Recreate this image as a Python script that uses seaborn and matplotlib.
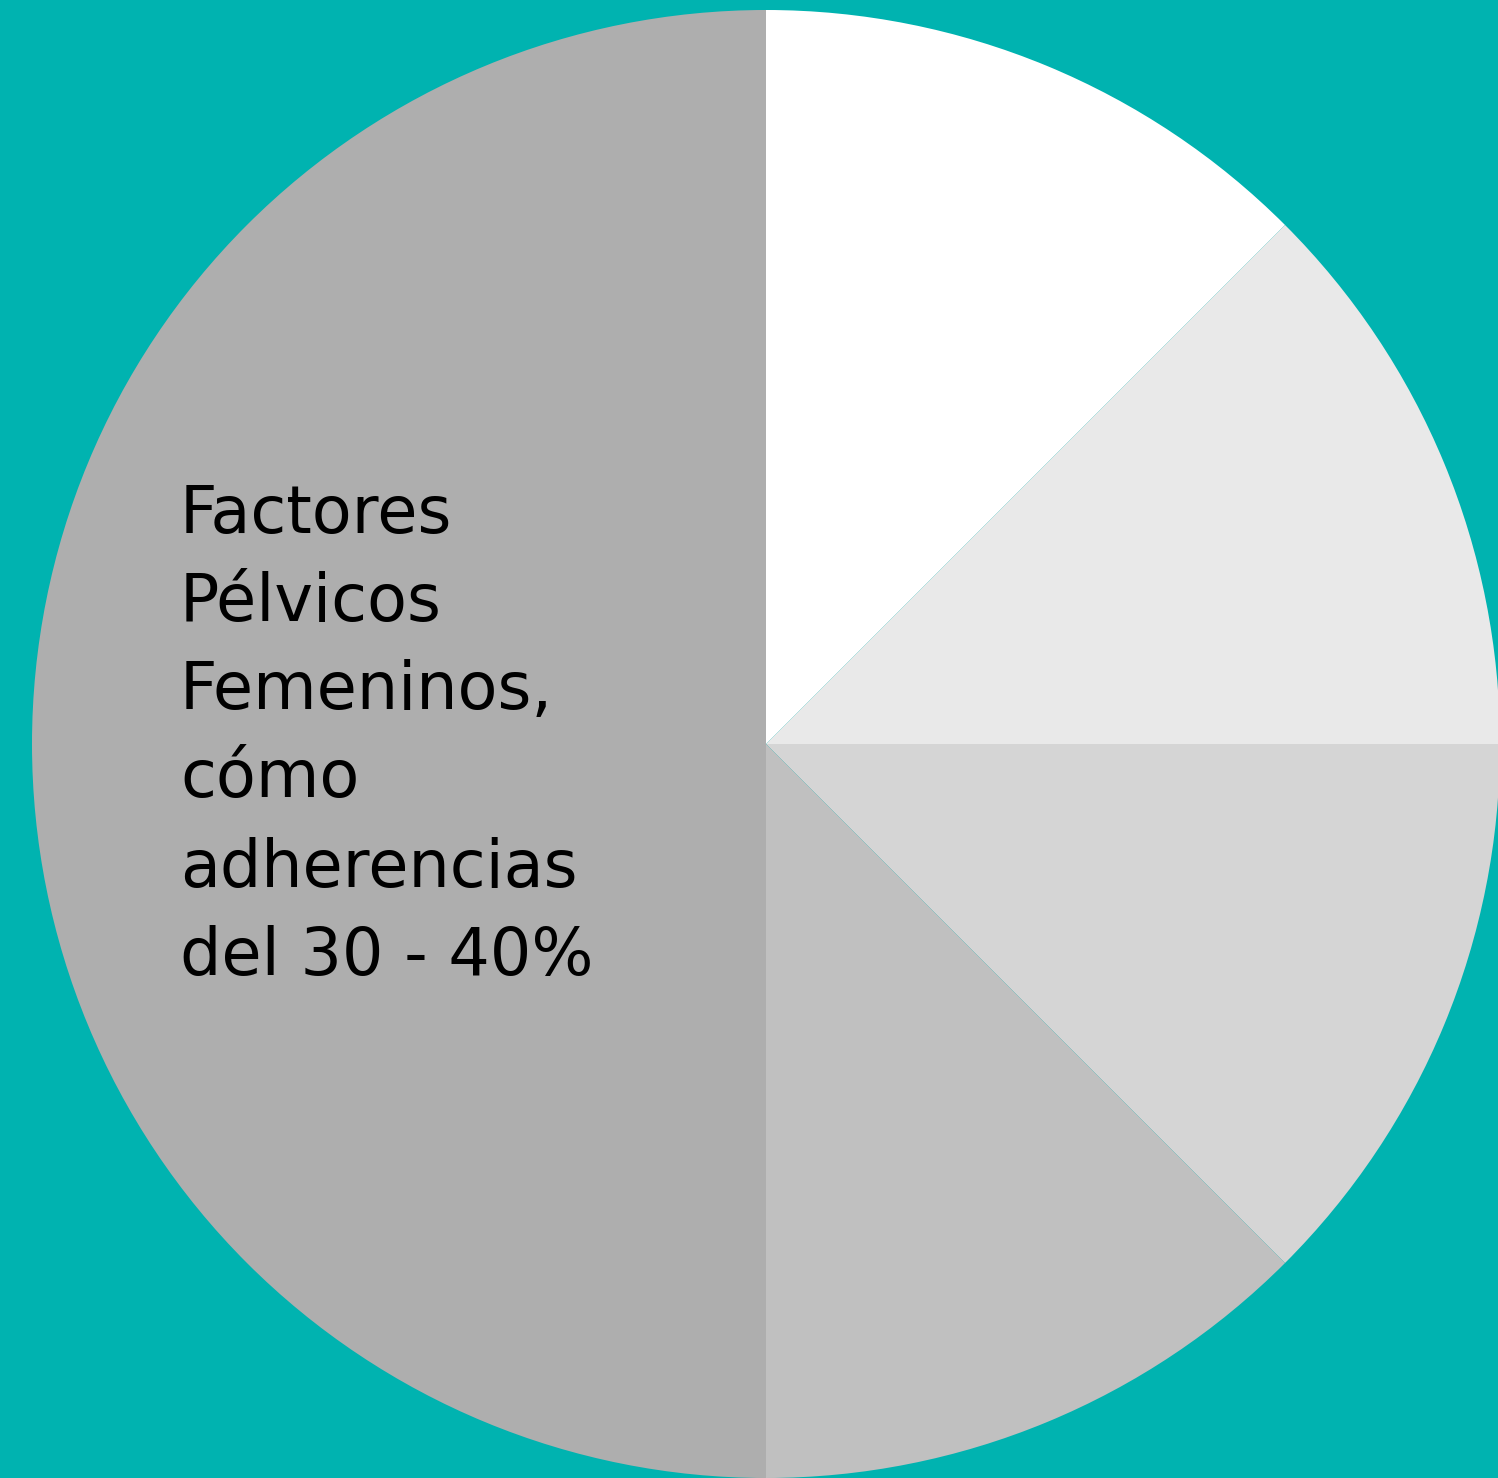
import matplotlib
matplotlib.use("Agg")
import matplotlib.pyplot as plt
import seaborn as sns

sns.set_style("white")
plt.rcParams['font.family'] = ['DejaVu Sans']

categories = ["A", "B", "C", "D", "Factores Pélvicos Femeninos"]
values = [12.5, 12.5, 12.5, 12.5, 50]
colors = ["#FFFFFF", "#E9E9E9", "#D5D5D5", "#C0C0C0", "#AEAEAE"]
label_lines = ["Factores", "Pélvicos", "Femeninos,", "cómo", "adherencias", "del 30 - 40%"]

W, H = 1498, 1478
fig = plt.figure(figsize=(W / 100, H / 100), dpi=100)
fig.patch.set_facecolor("#00B3B0")
ax = fig.add_axes([0, 0, 1, 1])
ax.set_facecolor("#00B3B0")

ax.pie(values, colors=colors, startangle=90, counterclock=False,
       center=(766, H - 744), radius=734, frame=True,
       wedgeprops=dict(linewidth=0, antialiased=True))
ax.set_xlim(0, W)
ax.set_ylim(0, H)
ax.set_aspect("equal")
ax.axis("off")

baselines = [533, 621, 709, 797, 887, 975]
for line, y in zip(label_lines, baselines):
    ax.text(180, H - y, line, fontsize=47, color="#000000",
            ha="left", va="baseline")

fig.savefig("out.png", dpi=100, facecolor=fig.get_facecolor())
